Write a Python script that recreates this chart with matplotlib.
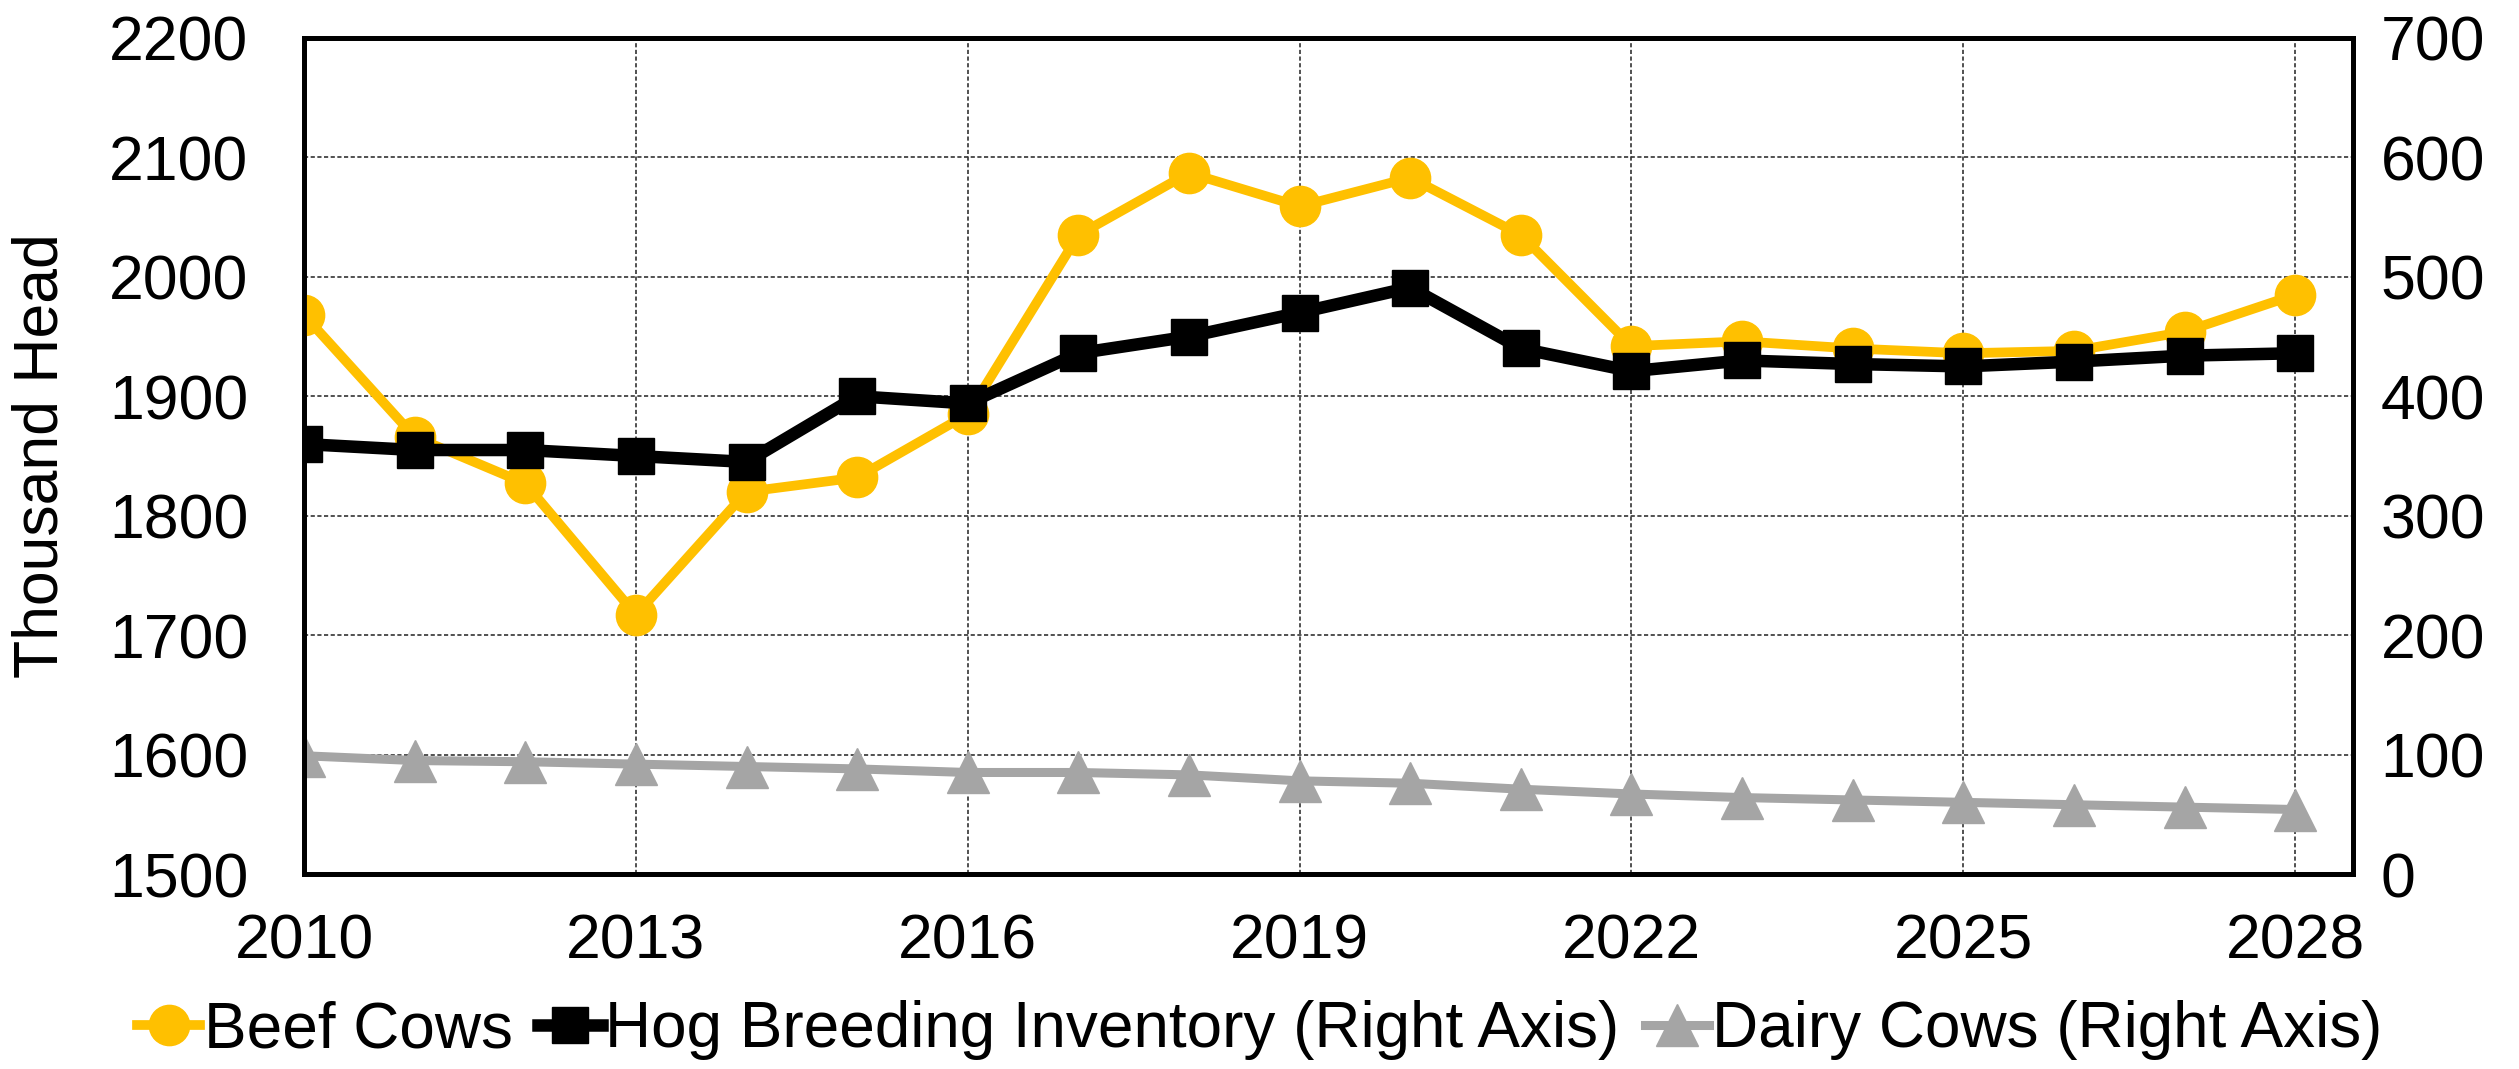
import matplotlib
matplotlib.use("Agg")
import matplotlib.pyplot as plt
from matplotlib.lines import Line2D

plt.rcParams['font.family'] = ['Liberation Sans', 'DejaVu Sans']

years = list(range(2010, 2029))
beef_cows = [1968, 1866, 1827, 1717, 1820, 1832, 1885, 2035, 2087, 2059,
             2083, 2035, 1942, 1946, 1940, 1936, 1938, 1954, 1985]
hog_breeding = [360, 355, 355, 350, 345, 400, 394, 436, 450, 470,
                491, 440, 421, 430, 427, 425, 429, 434, 436]
dairy_cows = [99, 95, 94, 92, 90, 88, 85, 85, 83, 78,
              76, 71, 67, 64, 62, 60, 58, 56, 54]
x_ticks = [2010, 2013, 2016, 2019, 2022, 2025, 2028]
left_ticks = [1500, 1600, 1700, 1800, 1900, 2000, 2100, 2200]
right_ticks = [0, 100, 200, 300, 400, 500, 600, 700]

YEL = '#FFC000'
GRY = '#A5A5A5'

fig = plt.figure(figsize=(25.19, 10.69), dpi=100)
ax = fig.add_axes([0.1207, 0.1824, 0.8133, 0.7821])
ax2 = ax.twinx()

beef_style = dict(color=YEL, lw=7, marker='o', ms=29)
hog_style = dict(color='black', lw=9, marker='s', ms=26)
dairy_style = dict(color=GRY, lw=6.5, marker='^', ms=30)

ax.plot(years, dairy_cows, transform=ax2.transData, zorder=2, **dairy_style)
ax.plot(years, beef_cows, zorder=3, **beef_style)
ax.plot(years, hog_breeding, transform=ax2.transData, zorder=4, **hog_style)

ax.set_xlim(2010, 2028.52)
ax.set_ylim(1500, 2200)
ax2.set_ylim(0, 700)
ax.set_xticks(x_ticks)
ax.set_yticks(left_ticks)
ax2.set_yticks(right_ticks)

ax.grid(True, linestyle=(0, (2.5, 1.5)), color='#333333', lw=1.2)
ax.set_axisbelow(True)

fs = 45
ax.tick_params(axis='y', length=0, labelsize=fs, pad=40)
ax2.tick_params(axis='y', length=0, labelsize=fs, pad=20)
ax.tick_params(axis='x', length=0, labelsize=fs, pad=28)
ax.set_ylabel('Thousand Head', fontsize=fs)
ax.yaxis.set_label_coords(-0.114, 0.5)

for a in (ax, ax2):
    for s in a.spines.values():
        s.set_linewidth(3.5)
        s.set_color('black')

handles = [
    Line2D([], [], **beef_style),
    Line2D([], [], **hog_style),
    Line2D([], [], **dairy_style),
]
labels = ['Beef Cows', 'Hog Breeding Inventory (Right Axis)', 'Dairy Cows (Right Axis)']
fig.legend(handles, labels, loc='center', bbox_to_anchor=(0.5, 1 - 1030 / 1069), ncol=3,
           frameon=False, fontsize=46, handlelength=1.0, handletextpad=0.05,
           columnspacing=0.4, borderpad=0)

fig.savefig('out.png', dpi=100)
